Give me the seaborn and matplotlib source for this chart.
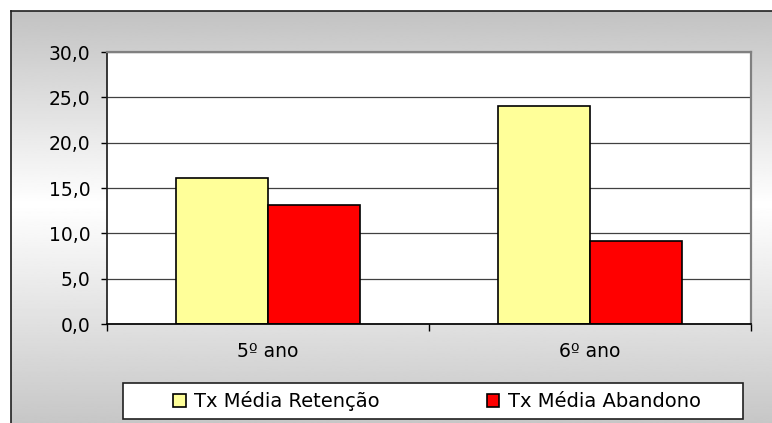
import numpy as np
import pandas as pd
import seaborn as sns
import matplotlib.pyplot as plt
from matplotlib.patches import Rectangle

# values
anos = ["5º ano", "6º ano"]
retencao = [16.1, 24.0]
abandono = [13.1, 9.2]
series = ["Tx Média Retenção", "Tx Média Abandono"]
yticks = [0, 5, 10, 15, 20, 25, 30]

df = pd.DataFrame({
    "ano": anos * 2,
    "serie": [series[0]] * 2 + [series[1]] * 2,
    "valor": retencao + abandono,
})

sns.set_theme(style="white", rc={"text.color": "black", "xtick.color": "black",
                                 "ytick.color": "black", "axes.labelcolor": "black"})
plt.rcParams["font.family"] = ["DejaVu Sans"]

W, H = 772, 423
fig = plt.figure(figsize=(W / 100, H / 100), dpi=100, facecolor="white")

# gray-white-gray gradient frame behind the chart
bg = fig.add_axes([11 / W, 0, 1 - 11 / W, (H - 11) / H])
bg.set_zorder(-1)
grad = np.interp(np.linspace(0, 1, 256), [0, 0.47, 1], [0.76, 1.0, 0.78])
bg.imshow(grad[:, None], aspect="auto", cmap="gray", vmin=0, vmax=1,
          extent=[0, 1, 0, 1], interpolation="bilinear")
bg.set_xticks([])
bg.set_yticks([])
for side in ["right", "bottom"]:
    bg.spines[side].set_visible(False)
for side in ["top", "left"]:
    bg.spines[side].set_color("#202020")
    bg.spines[side].set_linewidth(1.2)

ax = fig.add_axes([107 / W, (H - 324) / H, (751 - 107) / W, (324 - 52) / H])
ax.set_facecolor("white")

sns.barplot(data=df, x="ano", y="valor", hue="serie", hue_order=series,
            palette={series[0]: "#ffff99", series[1]: "#ff0000"},
            width=0.571, gap=0, edgecolor="black", linewidth=1.2,
            saturation=1, ax=ax)

ax.set_ylim(0, 30)
ax.set_xlim(-0.5, 1.5)
ax.set_yticks(yticks)
ax.set_yticklabels([f"{v:.1f}".replace(".", ",") for v in yticks], fontsize=13.5)
ax.yaxis.grid(True, color="#404040", linewidth=0.9)
ax.set_axisbelow(True)

# ticks between categories, labels centered on categories
ax.set_xticks([-0.5, 0.5, 1.5])
ax.set_xticklabels([])
ax.set_xticks([0, 1], minor=True)
ax.set_xticklabels(anos, minor=True, fontsize=13.5)
ax.tick_params(axis="x", which="major", direction="out", length=5, width=1,
               color="black", bottom=True)
ax.tick_params(axis="x", which="minor", length=0, pad=13)
ax.tick_params(axis="y", direction="out", length=4, width=1, color="black",
               left=True, pad=8)
ax.set_xlabel("")
ax.set_ylabel("")

ax.spines["left"].set_color("#202020")
ax.spines["bottom"].set_color("black")
for side in ["top", "right"]:
    ax.spines[side].set_color("#808080")
    ax.spines[side].set_linewidth(1.6)

handles, labels = ax.get_legend_handles_labels()
ax.get_legend().remove()

box = Rectangle((123 / W, (H - 419) / H), 620 / W, 36 / H,
                transform=fig.transFigure, facecolor="white",
                edgecolor="#202020", linewidth=1.2, zorder=1)
fig.add_artist(box)
leg = fig.legend(handles, labels, loc="center", ncol=2, frameon=False,
                 bbox_to_anchor=(437 / W, (H - 401) / H), fontsize=14,
                 handlelength=0.65, handleheight=0.65, handletextpad=0.42,
                 columnspacing=5.5)
leg.set_zorder(2)

fig.savefig("out.png", dpi=100)
